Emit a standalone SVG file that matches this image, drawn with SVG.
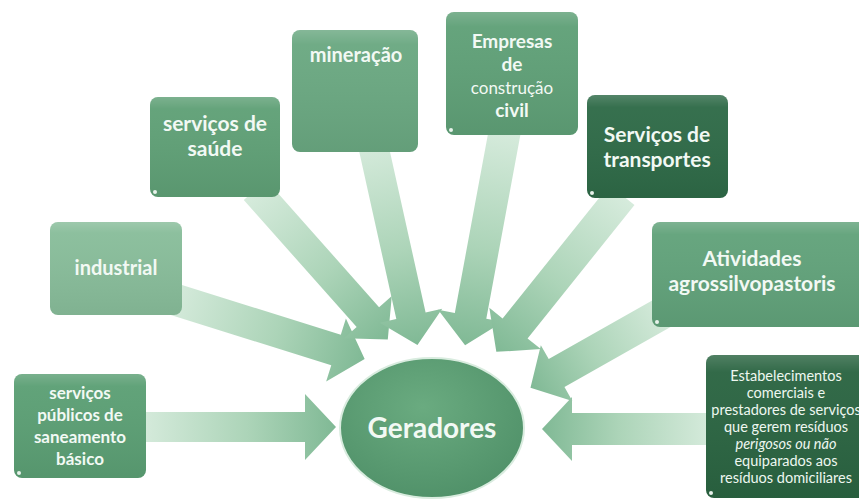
<svg xmlns="http://www.w3.org/2000/svg" width="859" height="501" viewBox="0 0 859 501">
  <defs>
    <linearGradient id="arrowFill" x1="0" y1="0" x2="1" y2="0">
      <stop offset="0" stop-color="#d6ebdc"/>
      <stop offset="0.55" stop-color="#acd4b8"/>
      <stop offset="1" stop-color="#80b995"/>
    </linearGradient>
    <linearGradient id="boxShade" x1="0" y1="0" x2="0" y2="1">
      <stop offset="0" stop-color="#ffffff" stop-opacity="0.18"/>
      <stop offset="0.12" stop-color="#ffffff" stop-opacity="0.04"/>
      <stop offset="1" stop-color="#000000" stop-opacity="0.06"/>
    </linearGradient>
    <radialGradient id="hubFill" cx="0.45" cy="0.35" r="0.7">
      <stop offset="0" stop-color="#6aab80"/>
      <stop offset="1" stop-color="#4f9068"/>
    </radialGradient>
  </defs>
  <style>
    .arrow { fill: url(#arrowFill); }
    .shade { fill: url(#boxShade); }
    .lbl { font-family: Lato, "Liberation Sans", "DejaVu Sans", sans-serif; font-weight: bold; fill: #f2f9f4; text-anchor: middle; }
    .small { font-family: Lato, "Liberation Sans", "DejaVu Sans", sans-serif; fill: #eef7f0; text-anchor: middle; font-size: 14.5px; }
    .dot { fill: #e8f3eb; }
  </style>

  <rect width="859" height="501" fill="#ffffff"/>

  <!-- connectors: broad block arrows pointing at the hub -->
  <g id="connectors">
    <path class="arrow" transform="translate(140,427)" d="M0,-15 L165,-15 L165,-33 L196,0 L165,33 L165,15 L0,15 Z"/>
    <path class="arrow" transform="translate(712,429) rotate(180)" d="M0,-16 L140,-16 L140,-32 L170,0 L140,32 L140,16 L0,16 Z"/>
    <path class="arrow" transform="translate(170,298) rotate(17.4)" d="M0,-16 L174,-16 L174,-33 L204,0 L174,33 L174,16 L0,16 Z"/>
    <path class="arrow" transform="translate(255,190) rotate(48.4)" d="M0,-15 L170,-15 L170,-32 L200,0 L170,32 L170,15 L0,15 Z"/>
    <path class="arrow" transform="translate(372,140) rotate(77.5)" d="M0,-15 L180,-15 L180,-32 L210,0 L180,32 L180,15 L0,15 Z"/>
    <path class="arrow" transform="translate(505,130) rotate(100.5)" d="M0,-16 L189,-16 L189,-33 L219,0 L189,33 L189,16 L0,16 Z"/>
    <path class="arrow" transform="translate(622,195) rotate(128.7)" d="M0,-16 L171,-16 L171,-33 L201,0 L171,33 L171,16 L0,16 Z"/>
    <path class="arrow" transform="translate(668,310) rotate(150.5)" d="M0,-16 L128,-16 L128,-32 L158,0 L128,32 L128,16 L0,16 Z"/>
  </g>

  <!-- hub -->
  <g id="geradores">
    <ellipse cx="432" cy="428" rx="92" ry="70" fill="url(#hubFill)" stroke="#d9ecdf" stroke-width="2"/>
    <text class="lbl" x="432" y="438" font-size="28">Geradores</text>
  </g>

  <g id="saneamento">
    <rect x="14" y="374" width="132" height="104" rx="8" fill="#5b9f74"/>
    <rect class="shade" x="14" y="374" width="132" height="104" rx="8"/>
    <circle class="dot" cx="19" cy="473" r="2"/>
    <text class="lbl" font-size="17"><tspan x="80" y="399">serviços</tspan><tspan x="80" y="421">públicos de</tspan><tspan x="80" y="443">saneamento</tspan><tspan x="80" y="465">básico</tspan></text>
  </g>

  <g id="industrial">
    <rect x="50" y="222" width="132" height="93" rx="8" fill="#88bd9a"/>
    <rect class="shade" x="50" y="222" width="132" height="93" rx="8"/>
    <text class="lbl" x="116" y="275" font-size="20" font-weight="normal">industrial</text>
  </g>

  <g id="saude">
    <rect x="150" y="97" width="130" height="100" rx="8" fill="#5fa076"/>
    <rect class="shade" x="150" y="97" width="130" height="100" rx="8"/>
    <circle class="dot" cx="155" cy="192" r="2"/>
    <text class="lbl" font-size="21"><tspan x="215" y="131">serviços de</tspan><tspan x="215" y="156">saúde</tspan></text>
  </g>

  <g id="mineracao">
    <rect x="292" y="30" width="126" height="122" rx="8" fill="#6aa881"/>
    <rect class="shade" x="292" y="30" width="126" height="122" rx="8"/>
    <text class="lbl" x="356" y="62" font-size="20">mineração</text>
  </g>

  <g id="construcao">
    <rect x="446" y="12" width="132" height="123" rx="8" fill="#5fa077"/>
    <rect class="shade" x="446" y="12" width="132" height="123" rx="8"/>
    <circle class="dot" cx="451" cy="130" r="2"/>
    <text class="lbl" font-size="19"><tspan x="512" y="48">Empresas</tspan><tspan x="512" y="71">de</tspan><tspan x="512" y="94" font-weight="normal" font-size="17">construção</tspan><tspan x="512" y="117">civil</tspan></text>
  </g>

  <g id="transportes">
    <rect x="587" y="95" width="141" height="103" rx="8" fill="#2e6a47"/>
    <rect class="shade" x="587" y="95" width="141" height="103" rx="8"/>
    <circle class="dot" cx="592" cy="193" r="2"/>
    <text class="lbl" font-size="21"><tspan x="657" y="142">Serviços de</tspan><tspan x="657" y="167">transportes</tspan></text>
  </g>

  <g id="agro">
    <rect x="652" y="222" width="218" height="105" rx="8" fill="#61a27a"/>
    <rect class="shade" x="652" y="222" width="218" height="105" rx="8"/>
    <circle class="dot" cx="657" cy="322" r="2"/>
    <text class="lbl" font-size="21"><tspan x="752" y="266">Atividades</tspan><tspan x="752" y="291">agrossilvopastoris</tspan></text>
  </g>

  <g id="estabelecimentos">
    <rect x="706" y="355" width="164" height="143" rx="8" fill="#2a6441"/>
    <rect class="shade" x="706" y="355" width="164" height="143" rx="8"/>
    <circle class="dot" cx="711" cy="493" r="2"/>
    <text class="small"><tspan x="786" y="381">Estabelecimentos</tspan><tspan x="786" y="398">comerciais e</tspan><tspan x="786" y="415">prestadores de serviços</tspan><tspan x="786" y="432">que gerem resíduos</tspan><tspan x="786" y="449" font-style="italic">perigosos ou não</tspan><tspan x="786" y="466">equiparados aos</tspan><tspan x="786" y="483">resíduos domiciliares</tspan></text>
  </g>
</svg>
